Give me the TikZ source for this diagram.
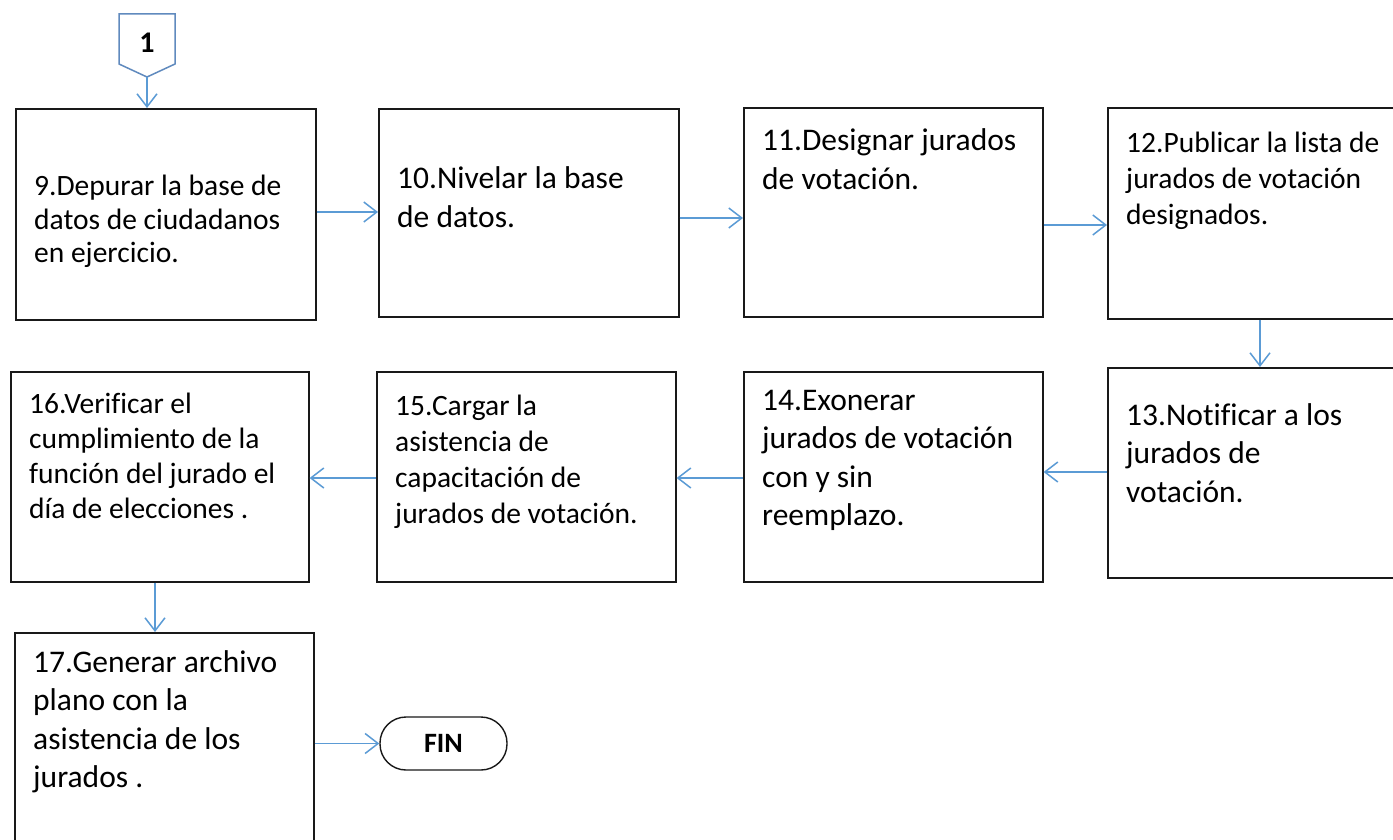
\documentclass[tikz,border=0pt]{standalone}
\usepackage{fontspec}
\setmainfont{Carlito}[Ligatures=NoCommon]
\usetikzlibrary{arrows.meta}
\definecolor{arrblue}{RGB}{91,155,213}
\definecolor{conblue}{RGB}{96,138,190}
\definecolor{boxline}{RGB}{25,25,25}
\newcommand\bigtext{\fontsize{31.5}{38.5}\selectfont}
\newcommand\smalltext[1]{\fontsize{29.5}{#1}\selectfont}
\newcommand\lines[1]{\parbox[t]{400pt}{\raggedright #1}}
\begin{document}
\begin{tikzpicture}[x=1pt,y=-1pt,
  box/.style={draw=boxline, line width=1.6pt, inner sep=0pt, anchor=north west},
  txt/.style={anchor=base west, inner sep=0pt, text=black},
  arr/.style={draw=arrblue, line width=1.5pt, -{Straight Barb[length=13pt,width=20pt,line width=1.5pt]}},
  conn/.style={draw=conblue, line width=1.5pt, fill=white, line join=miter}]
\useasboundingbox (0,0) rectangle (1393,840);
\fill[white] (0,0) rectangle (1393,840);
\begin{scope}
\clip (0,0) rectangle (1393,840);
% connector 1
\draw[conn] (119,14) -- (175,14) -- (175,64) -- (147,77) -- (119,64) -- cycle;
\node[inner sep=0pt, font=\fontsize{30}{34}\selectfont\bfseries] (c1) at (147,43) {1};
\coordinate (c1tip) at (147,77);
% boxes
\node[box, minimum width=300pt, minimum height=211pt] (b9) at (15,108) {};
\node[box, minimum width=300pt, minimum height=208pt] (b10) at (378,108) {};
\node[box, minimum width=299pt, minimum height=209pt] (b11) at (743,107) {};
\node[box, minimum width=300pt, minimum height=211pt] (b12) at (1107,107) {};
\node[box, minimum width=300pt, minimum height=210pt] (b13) at (1107,367) {};
\node[box, minimum width=299pt, minimum height=210pt] (b14) at (743,371) {};
\node[box, minimum width=299pt, minimum height=210pt] (b15) at (376,371) {};
\node[box, minimum width=298pt, minimum height=210pt] (b16) at (10,371) {};
\node[box, minimum width=299pt, minimum height=240pt] (b17) at (14,632) {};
\node[draw=boxline, line width=1.4pt, rounded corners=26pt, minimum width=127pt, minimum height=53pt, inner sep=0pt, font=\fontsize{28}{32}\selectfont\bfseries] (fin) at (443.5,743.5) {FIN};
% texts
\node[txt] (t9) at (34,196) {\smalltext{33.5}\lines{9.Depurar la base de\\datos de ciudadanos\\en ejercicio.}};
\node[txt] (t10) at (397,189) {\bigtext\lines{10.Nivelar la base\\de datos.}};
\node[txt] (t11) at (762,151) {\bigtext\lines{11.Designar jurados\\de votación.}};
\node[txt] (t12) at (1126,153) {\smalltext{36}\lines{12.Publicar la lista de\\jurados de votación\\designados.}};
\node[txt] (t13) at (1126,425) {\bigtext\lines{13.Notificar a los\\jurados de\\votación.}};
\node[txt] (t14) at (762,410) {\bigtext\lines{14.Exonerar\\jurados de votación\\con y sin\\reemplazo.}};
\node[txt] (t15) at (395,415) {\smalltext{36}\lines{15.Cargar la\\asistencia de\\capacitación de\\jurados de votación.}};
\node[txt] (t16) at (29,413) {\smalltext{35}\lines{16.Verificar el\\cumplimiento de la\\función del jurado el\\día de elecciones .}};
\node[txt] (t17) at (33,672) {\bigtext\lines{17.Generar archivo\\plano con la\\asistencia de los\\jurados .}};
% connectors
\coordinate (ya) at (0,212);
\coordinate (yb) at (0,218);
\coordinate (yc) at (0,225);
\coordinate (yd) at (0,472);
\coordinate (ye) at (0,478);
\coordinate (xa) at (1260,0);
\coordinate (xb) at (155,0);
\draw[arr] (c1tip) -- (c1tip |- b9.north);
\draw[arr] (b9.east |- ya) -- (b10.west |- ya);
\draw[arr] (b10.east |- yb) -- (b11.west |- yb);
\draw[arr] (b11.east |- yc) -- (b12.west |- yc);
\draw[arr] (b12.south -| xa) -- (b13.north -| xa);
\draw[arr] (b13.west |- yd) -- (b14.east |- yd);
\draw[arr] (b14.west |- ye) -- (b15.east |- ye);
\draw[arr] (b15.west |- ye) -- (b16.east |- ye);
\draw[arr] (b16.south -| xb) -- (b17.north -| xb);
\draw[arr] (b17.east |- fin.west) -- (fin.west);
\end{scope}
\end{tikzpicture}
\end{document}
